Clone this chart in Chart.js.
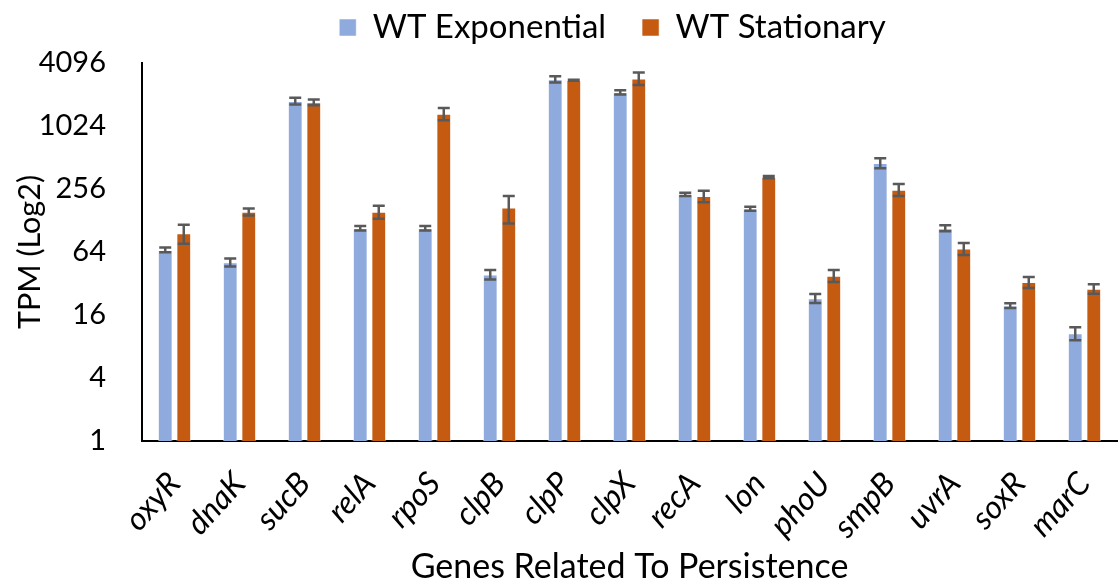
<!DOCTYPE html>
<html>
<head>
<meta charset="utf-8">
<script src="https://cdn.jsdelivr.net/npm/chart.js@4.4.1/dist/chart.umd.min.js"></script>
<style>
html,body{margin:0;padding:0;background:#fff;}
#wrap{width:1120px;height:584px;}
</style>
</head>
<body>
<div id="wrap"><canvas id="c" width="1120" height="584"></canvas></div>
<script>
const genes = ["oxyR","dnaK","sucB","relA","rpoS","clpB","clpP","clpX","recA","lon","phoU","smpB","uvrA","soxR","marC"];
const expValues = [67, 51, 1773, 108, 108, 39, 2860, 2150, 228, 166, 23.1, 454, 108, 19.7, 10.7];
const expErrors = [3.5, 4.5, 130, 5.5, 5.5, 4, 200, 100, 8, 7, 2.3, 50, 7, 1, 1.5];
const statValues = [96.6, 155, 1723, 155, 1342, 170, 2800, 2920, 219, 333, 38, 252, 69, 33, 28.5];
const statErrors = [20, 12, 110, 22, 180, 50, 30, 400, 28, 8, 5, 33, 9, 4, 3];
const yTicks = [1, 4, 16, 64, 256, 1024, 4096];

const FONT = "Lato, 'Open Sans', sans-serif";

const errorBarPlugin = {
  id: 'errorBars',
  afterDatasetsDraw(chart) {
    const ctx = chart.ctx;
    const ys = chart.scales.y;
    const errs = [expErrors, statErrors];
    ctx.save();
    ctx.strokeStyle = '#595959';
    ctx.lineWidth = 2.5;
    chart.data.datasets.forEach((ds, di) => {
      const meta = chart.getDatasetMeta(di);
      meta.data.forEach((bar, i) => {
        const v = ds.data[i], e = errs[di][i];
        const yTop = ys.getPixelForValue(v + e);
        const yBot = ys.getPixelForValue(Math.max(v - e, 1));
        const x = bar.x, cap = 6;
        ctx.beginPath();
        ctx.moveTo(x, yTop); ctx.lineTo(x, yBot);
        ctx.moveTo(x - cap, yTop); ctx.lineTo(x + cap, yTop);
        ctx.moveTo(x - cap, yBot); ctx.lineTo(x + cap, yBot);
        ctx.stroke();
      });
    });
    ctx.restore();
  }
};

const legendTweak = {
  id: 'legendTweak',
  beforeUpdate(chart) {
    const lg = chart.legend;
    if (!lg || lg._tweaked) return;
    lg._tweaked = true;
    const oFit = lg.fit, oDraw = lg.draw;
    lg.fit = function () { oFit.call(this); this.height = 63; };
    lg.draw = function () {
      const ctx = this.ctx;
      const b = this.bottom;
      this.bottom = b + 60;
      ctx.save();
      ctx.translate(54, -25);
      oDraw.call(this);
      ctx.restore();
      this.bottom = b;
    };
  }
};

new Chart(document.getElementById('c'), {
  type: 'bar',
  data: {
    labels: genes,
    datasets: [
      { label: 'WT Exponential', data: expValues, backgroundColor: '#8FAADC', borderColor: 'rgba(255,255,255,0.5)', borderWidth: 1 },
      { label: 'WT Stationary', data: statValues, backgroundColor: '#C55A11', borderColor: 'rgba(255,255,255,0.5)', borderWidth: 1 }
    ]
  },
  options: {
    responsive: false,
    animation: false,
    devicePixelRatio: 1,
    layout: { padding: { left: 0, right: 3, top: 0, bottom: 0 } },
    datasets: { bar: { categoryPercentage: 0.57, barPercentage: 0.8 } },
    plugins: {
      legend: {
        position: 'top',
        labels: { font: { family: FONT, size: 33 }, color: '#000', boxWidth: 17, boxHeight: 17, padding: 36 }
      },
      tooltip: { enabled: false }
    },
    scales: {
      x: {
        grid: { display: false, drawTicks: false },
        border: { display: true, color: '#000', width: 2 },
        ticks: { font: { family: FONT, size: 32, style: 'italic' }, color: '#000', minRotation: 48, maxRotation: 48, padding: 24 },
        title: { display: true, text: 'Genes Related To Persistence', font: { family: FONT, size: 34, lineHeight: 1.0 }, color: '#000', padding: { top: 0, bottom: 0 } },
        afterFit(s) { s.height = 143; s.paddingLeft = 0; s.paddingRight = 0; }
      },
      y: {
        type: 'logarithmic',
        min: 1, max: 4096,
        grid: { display: false, drawTicks: false },
        border: { display: true, color: '#000', width: 2 },
        afterBuildTicks(s) { s.ticks = yTicks.map(v => ({ value: v })); },
        ticks: { font: { family: FONT, size: 29 }, color: '#000', padding: 36, callback: v => String(v) },
        title: { display: true, text: 'TPM (Log2)', font: { family: FONT, size: 30.5 }, color: '#000', padding: { top: 12, bottom: 0 } },
        afterFit(s) { s.width = 142; }
      }
    }
  },
  plugins: [errorBarPlugin, legendTweak]
});
</script>
</body>
</html>
